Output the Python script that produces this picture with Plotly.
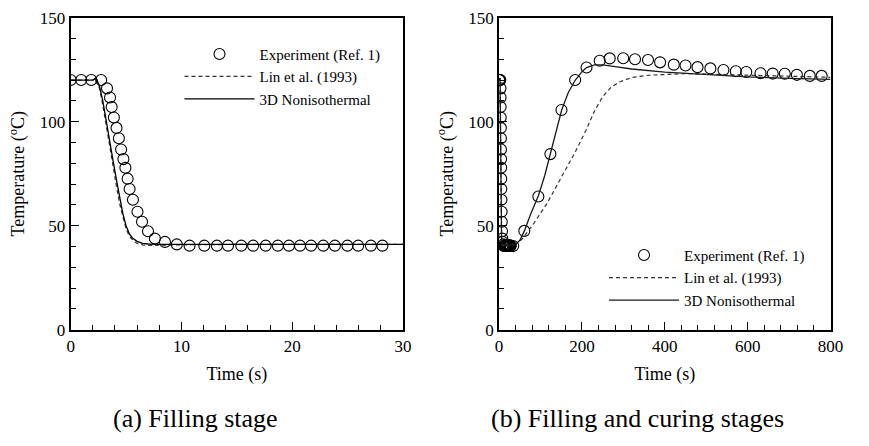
import plotly.graph_objects as go

# ---------------- data ----------------
# (a) Filling stage
fill_exp_t = [0, 0.95, 1.86, 2.75, 3.28, 3.55, 3.7, 3.9, 4.14, 4.35, 4.55, 4.76, 4.94, 5.14, 5.32,
              5.62, 6.03, 6.44, 6.98, 7.6, 8.51, 9.58, 10.73, 12.06, 13.2, 14.2, 15.4, 16.47, 17.6,
              18.7, 19.7, 20.7, 21.7, 22.8, 23.85, 24.98, 25.95, 27.1, 28.14]
fill_exp_T = [120, 120, 120, 120, 116, 111.6, 107, 102, 97, 92, 86.6, 82, 77.8, 72.6, 67.6,
              62.5, 56.7, 51.9, 47.3, 43.8, 42.2, 41, 40.4, 40.4, 40.4, 40.4, 40.4, 40.4, 40.4,
              40.4, 40.4, 40.4, 40.4, 40.4, 40.4, 40.4, 40.4, 40.4, 40.4]
fill_3d_t = [0, 1, 2, 2.3, 2.6, 2.9, 3.2, 3.5, 3.8, 4.1, 4.4, 4.7, 5.0, 5.3, 5.6, 6.0, 6.5, 7, 8, 10, 15, 20, 25, 30]
fill_3d_T = [120, 120, 120, 121, 117, 110, 100, 91, 82, 73, 64, 56, 50, 46, 44, 42.5, 41.5, 41.2, 41, 41, 41, 41, 41, 41]
fill_lin_t = [0, 1, 2, 2.3, 2.6, 2.9, 3.2, 3.5, 3.8, 4.1, 4.4, 4.7, 5.0, 5.3, 5.6, 6.0, 6.5, 7, 8, 10, 15, 20, 25, 30]
fill_lin_T = [120, 120, 120, 121, 116, 108, 98, 89, 79, 70, 61, 54, 48.5, 45, 43, 41.5, 40.8, 40.5, 40.5, 40.8, 41, 41, 41, 41]

# (b) Filling and curing stages
cure_exp_t = [34, 60.8, 94.7, 123.8, 150.5, 183.6, 211, 242.8, 267, 299.5, 328, 359.4, 388.6,
              421.7, 450, 479, 510, 541.5, 571.4, 596.6, 631, 660.5, 689.6, 718.8, 750, 778.7]
cure_exp_T = [40.2, 47.5, 64, 84.4, 105.6, 120, 126, 129.3, 130.4, 130.5, 130, 129.6, 128.5,
              127.4, 127, 126.2, 125.6, 124.8, 124.2, 123.9, 123.3, 123.1, 123, 122.5, 122, 122]
all_exp_t = fill_exp_t + cure_exp_t
all_exp_T = fill_exp_T + cure_exp_T
cure_3d_t = [0, 2.3, 3.2, 5, 6, 8, 30, 40, 50, 61, 75, 95, 110, 124, 137, 151, 167, 184, 200, 211,
             230, 250, 280, 320, 400, 500, 600, 700, 800]
cure_3d_T = [120, 121, 100, 50, 42.5, 41, 41, 41, 43, 47.5, 55, 64.5, 74, 84.4, 95, 105.6, 114, 120, 124, 126,
             127.3, 127.3, 126.4, 125.3, 123.8, 122.5, 121.5, 120.8, 120.3]
cure_lin_t = [0, 2.3, 3.2, 5, 6, 8, 30, 40, 55, 80, 115, 146, 184, 210, 230, 250, 270, 290, 320,
              360, 400, 450, 500, 600, 700, 800]
cure_lin_T = [120, 121, 98, 48.5, 41.5, 40.5, 41, 41, 43.5, 50, 60.5, 71.5, 85.5, 96, 105, 112, 116.5, 119, 121.2,
              122.3, 122.8, 123.1, 122.9, 122.3, 121.8, 121.3]

names = ["Experiment (Ref. 1)", "Lin et al. (1993)", "3D Nonisothermal"]
captions = ["(a) Filling stage", "(b) Filling and curing stages"]

# ---------------- figure ----------------
FONT = "Liberation Serif"
W, H = 869, 446
fig = go.Figure()
marker = dict(symbol="circle-open", size=11, color="black", line=dict(width=1.1, color="black"))

fig.add_trace(go.Scatter(x=fill_exp_t, y=fill_exp_T, mode="markers", marker=marker, name=names[0],
                         xaxis="x", yaxis="y", legend="legend"))
fig.add_trace(go.Scatter(x=fill_lin_t, y=fill_lin_T, mode="lines", name=names[1],
                         line=dict(color="#333333", width=1.2, dash="4px,3px"),
                         xaxis="x", yaxis="y", legend="legend"))
fig.add_trace(go.Scatter(x=fill_3d_t, y=fill_3d_T, mode="lines", name=names[2],
                         line=dict(color="black", width=1.3), xaxis="x", yaxis="y", legend="legend"))
fig.add_trace(go.Scatter(x=all_exp_t, y=all_exp_T, mode="markers", marker=marker, name=names[0],
                         xaxis="x2", yaxis="y2", legend="legend2"))
fig.add_trace(go.Scatter(x=cure_lin_t, y=cure_lin_T, mode="lines", name=names[1],
                         line=dict(color="#333333", width=1.2, dash="4px,3px"),
                         xaxis="x2", yaxis="y2", legend="legend2"))
fig.add_trace(go.Scatter(x=cure_3d_t, y=cure_3d_T, mode="lines", name=names[2],
                         line=dict(color="#1a1a1a", width=1.3), xaxis="x2", yaxis="y2", legend="legend2"))

tickfont = dict(family=FONT, size=17, color="black")
titlefont = dict(family=FONT, size=18, color="black")

def xax(dom, rng, dt, mdt, anchor):
    return dict(domain=dom, range=rng, dtick=dt, tick0=0, anchor=anchor,
                showline=True, linecolor="black", linewidth=2, mirror=True,
                ticks="inside", ticklen=8, tickwidth=1.3, tickcolor="black",
                minor=dict(dtick=mdt, ticks="inside", ticklen=5, tickwidth=1.1, tickcolor="black"),
                showgrid=False, zeroline=False, tickfont=tickfont, ticklabeloverflow="allow",
                title=dict(text="Time (s)", font=titlefont, standoff=12))

def yax(dom, anchor):
    return dict(domain=dom, range=[0, 150], dtick=50, tick0=0, anchor=anchor,
                showline=True, linecolor="black", linewidth=2, mirror=True,
                ticks="inside", ticklen=8, tickwidth=1.3, tickcolor="black",
                minor=dict(dtick=10, ticks="inside", ticklen=5, tickwidth=1.1, tickcolor="black"),
                showgrid=False, zeroline=False, tickfont=tickfont, ticklabeloverflow="allow",
                title=dict(text="Temperature (<sup>o</sup>C)", font=titlefont, standoff=10))

ydom = [111 / H, 437 / H]
legfont = dict(family=FONT, size=15, color="black")
fig.update_layout(
    width=W, height=H,
    margin=dict(l=0, r=0, t=0, b=0),
    paper_bgcolor="white", plot_bgcolor="white",
    font=dict(family=FONT, color="black"),
    xaxis=xax([68 / W, 407 / W], [0, 30], 10, 2, "y"),
    yaxis=yax(ydom, "x"),
    xaxis2=xax([505 / W, 843 / W], [0, 800], 200, 40, "y2"),
    yaxis2=yax(ydom, "x2"),
    legend=dict(x=179 / W, y=1 - 30 / H, xanchor="left", yanchor="top",
                bgcolor="rgba(0,0,0,0)", font=legfont, itemwidth=70, tracegroupgap=0),
    legend2=dict(x=612 / W, y=1 - 240 / H, xanchor="left", yanchor="top",
                 bgcolor="rgba(0,0,0,0)", font=legfont, itemwidth=70, tracegroupgap=0),
    annotations=[
        dict(text=captions[0], x=195 / W, y=1 - 428 / H, xref="paper", yref="paper",
             xanchor="center", yanchor="middle",
             showarrow=False, font=dict(family=FONT, size=26, color="black")),
        dict(text=captions[1], x=646 / W, y=1 - 428 / H, xref="paper", yref="paper",
             xanchor="center", yanchor="middle",
             showarrow=False, font=dict(family=FONT, size=26, color="black")),
    ],
)

fig.write_html("out.html", post_script="document.body.style.margin='0px';",
               config={"displayModeBar": False})
